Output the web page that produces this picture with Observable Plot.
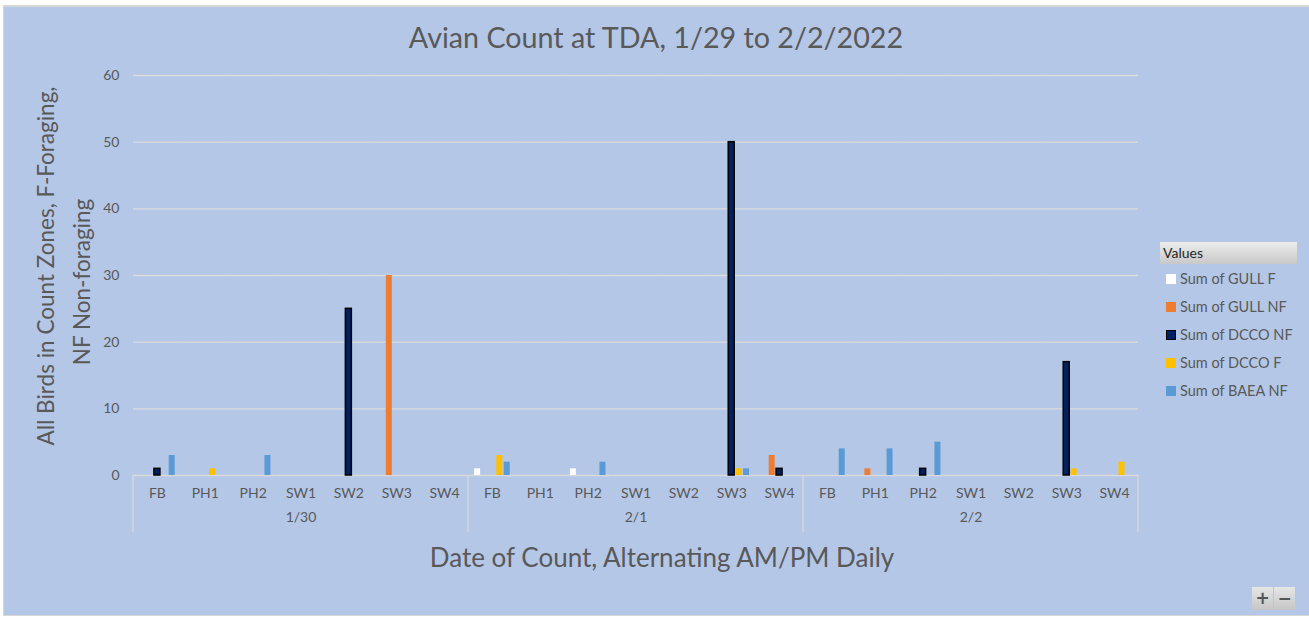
<!DOCTYPE html>
<html>
<head>
<meta charset="utf-8">
<script src="https://cdn.jsdelivr.net/npm/d3@7"></script>
<script src="https://cdn.jsdelivr.net/npm/@observablehq/plot@0.6"></script>
<style>
  html, body { margin: 0; padding: 0; background: #ffffff; }
  body { width: 1309px; height: 618px; position: relative; overflow: hidden; font-family: Lato, "Open Sans", sans-serif; }
  #bg { position: absolute; left: 3px; top: 5px; width: 1306px; height: 611px; background: #b4c7e7; border-top: 2px solid #d6d6d6; border-left: 1px solid #d6d6d6; border-bottom: 1px solid #d6d6d6; box-sizing: border-box; }
  #plot { position: absolute; left: 0; top: 0; }
  #plot svg { overflow: visible; }
  .abs { position: absolute; white-space: nowrap; color: #595959; line-height: 1.2; }
  #title { left: 656px; top: 20px; transform: translateX(-50%); font-size: 28.7px; }
  #xtitle { left: 662px; top: 542px; transform: translateX(-50%); font-size: 26px; }
  .ytitle { transform: translate(-50%, -50%) rotate(-90deg); font-size: 22.5px; }
  #legend-head { position: absolute; left: 1160px; top: 242px; width: 137px; height: 22px; background: linear-gradient(#ededed, #c8c8c8); font-size: 14px; line-height: 22px; color: #262626; padding-left: 3px; box-sizing: border-box; }
  .leg-item { position: absolute; left: 1166px; font-size: 14.5px; color: #595959; line-height: 1.2; }
  .leg-sw { position: absolute; left: 0; width: 10px; height: 10px; box-sizing: border-box; }
  .leg-tx { position: absolute; left: 14px; white-space: nowrap; }
  #zoom { position: absolute; left: 1252px; top: 587px; display: flex; gap: 1px; }
  #zoom div { width: 21px; height: 23px; background: linear-gradient(#e6e6e6, #c6c6c6); color: #555; font: bold 17px/23px "DejaVu Sans", sans-serif; text-align: center; }
</style>
</head>
<body>
<div id="bg"></div>
<div id="plot"></div>
<div id="title" class="abs">Avian Count at TDA, 1/29 to 2/2/2022</div>
<div id="xtitle" class="abs">Date of Count, Alternating AM/PM Daily</div>
<div class="abs ytitle" style="left:45px; top:266px;">All Birds in Count Zones, F-Foraging,</div>
<div class="abs ytitle" style="left:81px; top:282px;">NF Non-foraging</div>
<div id="legend-head">Values</div>
<div id="legend"></div>
<div id="zoom"><div>+</div><div>−</div></div>
<script>
// ---- data ----
const dates = ["1/30", "2/1", "2/2"];
const zones = ["FB", "PH1", "PH2", "SW1", "SW2", "SW3", "SW4"];
const seriesNames = ["Sum of GULL F", "Sum of GULL NF", "Sum of DCCO NF", "Sum of DCCO F", "Sum of BAEA NF"];
const seriesColors = ["#ffffff", "#ed7d31", "#002060", "#ffc000", "#5b9bd5"];
// values per category, in order 1/30 FB..SW4, 2/1 FB..SW4, 2/2 FB..SW4
const gullF  = [0, 0, 0, 0, 0, 0, 0,   1, 0, 1, 0, 0, 0, 0,   0, 0, 0, 0, 0, 0, 0];
const gullNF = [0, 0, 0, 0, 0, 30, 0,  0, 0, 0, 0, 0, 0, 3,   0, 1, 0, 0, 0, 0, 0];
const dccoNF = [1, 0, 0, 0, 25, 0, 0,  0, 0, 0, 0, 0, 50, 1,  0, 0, 1, 0, 0, 17, 0];
const dccoF  = [0, 1, 0, 0, 0, 0, 0,   3, 0, 0, 0, 0, 1, 0,   0, 0, 0, 0, 0, 1, 2];
const baeaNF = [3, 0, 3, 0, 0, 0, 0,   2, 0, 2, 0, 0, 1, 0,   4, 4, 5, 0, 0, 0, 0];
const yTicks = [0, 10, 20, 30, 40, 50, 60];

// ---- build table ----
const categories = dates.flatMap(d => zones.map(z => `${d}|${z}`));
const seriesValues = [gullF, gullNF, dccoNF, dccoF, baeaNF];
const rows = [];
seriesNames.forEach((s, i) => categories.forEach((c, j) => {
  const v = seriesValues[i][j];
  if (v > 0) rows.push({cat: c, series: s, value: v});
}));
const gridRows = categories.flatMap(c => yTicks.map(t => ({cat: c, t})));
const groupLabels = dates.map(d => ({cat: `${d}|SW1`, label: d}));

const chart = Plot.plot({
  width: 1309,
  height: 618,
  marginLeft: 133,
  marginRight: 171,
  marginTop: 75,
  marginBottom: 143,
  style: {background: "transparent", fontFamily: "Lato, sans-serif", color: "#595959", overflow: "visible"},
  fx: {domain: categories, padding: 0, round: false, axis: null},
  x: {domain: seriesNames, paddingInner: 0.19, paddingOuter: 0.83, round: false, axis: null},
  y: {domain: [0, 60], axis: null},
  color: {domain: seriesNames, range: seriesColors},
  marks: [
    Plot.ruleY(gridRows.filter(d => d.t > 0), {fx: "cat", y: "t", stroke: "#dcdcdc", strokeWidth: 1.3}),
    Plot.ruleY(gridRows.filter(d => d.t === 0), {fx: "cat", y: "t", stroke: "#d9d9d9", strokeWidth: 1.3}),
    Plot.axisY(yTicks, {anchor: "left", tickSize: 0, tickPadding: 14, fontSize: 14, label: null, color: "#595959"}),
    Plot.axisFx({anchor: "bottom", tickSize: 0, tickPadding: 13, fontSize: 14, label: null, color: "#595959", tickFormat: c => c.split("|")[1]}),
    Plot.barY(rows.filter(r => r.series !== "Sum of DCCO NF"), {fx: "cat", x: "series", y: "value", fill: "series"}),
    Plot.barY(rows.filter(r => r.series === "Sum of DCCO NF"), {fx: "cat", x: "series", y: "value", fill: "series", stroke: "#000000", strokeWidth: 1.5}),
    Plot.text(groupLabels, {fx: "cat", text: "label", frameAnchor: "bottom", dy: 46, fontSize: 14, fill: "#595959"})
  ]
});
document.getElementById("plot").appendChild(chart);

// group separators on the category axis, positioned with Plot's fx / y scales
const fxs = chart.scale("fx");
const ys = chart.scale("y");
const step = (fxs.range[1] - fxs.range[0]) / fxs.domain.length;
const posOf = k => (fxs.apply ? fxs.apply(k) : fxs.range[0] + fxs.domain.indexOf(k) * step);
const y0 = ys.apply ? ys.apply(0) : ys.range[0];
const sepX = dates.map(d => posOf(`${d}|FB`)).concat([posOf(`${dates[dates.length - 1]}|SW4`) + (fxs.bandwidth ?? step)]);
d3.select(chart).append("g")
  .selectAll("line").data(sepX).join("line")
  .attr("x1", d => d).attr("x2", d => d)
  .attr("y1", y0).attr("y2", y0 + 57)
  .attr("stroke", "#d9d9d9").attr("stroke-width", 1.3);

// legend (HTML), built from the series arrays
const legend = d3.select("#legend");
seriesNames.forEach((s, i) => {
  const item = legend.append("div").attr("class", "leg-item").style("top", `${270 + i * 28}px`);
  item.append("div").attr("class", "leg-sw")
    .style("top", "4px")
    .style("background", seriesColors[i])
    .style("border", s === "Sum of DCCO NF" ? "1.5px solid #000" : "none");
  item.append("div").attr("class", "leg-tx").text(s);
});
</script>
</body>
</html>
